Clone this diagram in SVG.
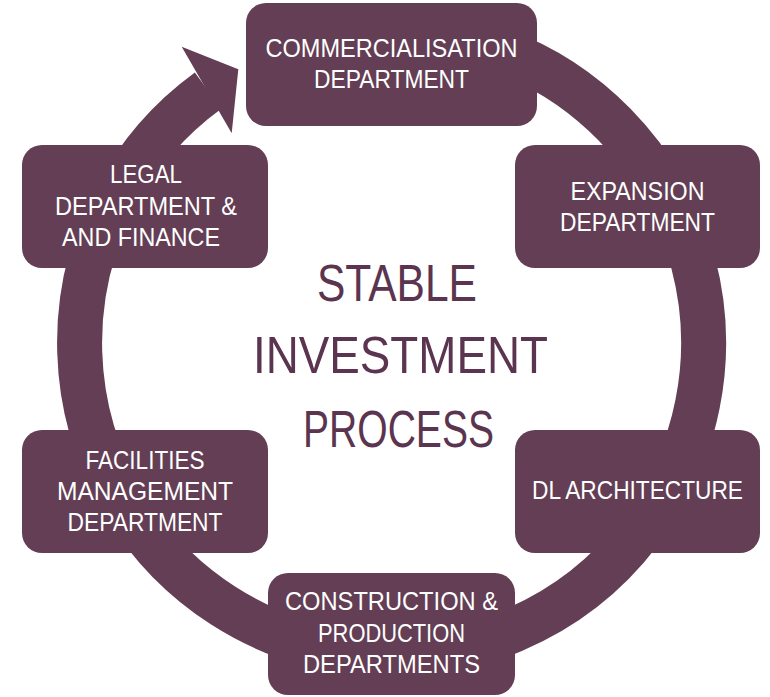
<svg xmlns="http://www.w3.org/2000/svg" width="770" height="697" viewBox="0 0 770 697">
  <style>
    .box { fill: #633e54; }
    .ring { fill: none; stroke: #633e54; stroke-width: 45; stroke-linecap: butt; }
    .head { fill: #633e54; }
    .lbl { font-family: "Liberation Sans", Arial, sans-serif; font-size: 25px; fill: #ffffff; text-anchor: middle; }
    .title { font-family: "Liberation Sans", Arial, sans-serif; font-size: 51px; fill: #5b344f; text-anchor: middle; }
  </style>

  <!-- circular flow arrow -->
  <g id="connectors">
    <path class="ring" d="M 337.3 35.7 A 312 312 0 1 1 208.1 90.6"/>
    <polygon class="head" points="181.7,46.7 238.3,69.3 231.7,133.3"/>
  </g>

  <g id="commercialisation">
    <rect class="box" x="246" y="3" width="291" height="123" rx="20"/>
    <text class="lbl" x="391.5" y="57" textLength="252" lengthAdjust="spacingAndGlyphs">COMMERCIALISATION</text>
    <text class="lbl" x="391.5" y="88" textLength="155" lengthAdjust="spacingAndGlyphs">DEPARTMENT</text>
  </g>

  <g id="expansion">
    <rect class="box" x="515" y="145" width="245" height="123" rx="20"/>
    <text class="lbl" x="637.5" y="200" textLength="134" lengthAdjust="spacingAndGlyphs">EXPANSION</text>
    <text class="lbl" x="637.5" y="231" textLength="155" lengthAdjust="spacingAndGlyphs">DEPARTMENT</text>
  </g>

  <g id="dl-architecture">
    <rect class="box" x="515" y="430" width="245" height="123" rx="20"/>
    <text class="lbl" x="637.5" y="499" textLength="211" lengthAdjust="spacingAndGlyphs">DL ARCHITECTURE</text>
  </g>

  <g id="construction">
    <rect class="box" x="268" y="573" width="247" height="122" rx="20"/>
    <text class="lbl" x="391.5" y="610" textLength="213" lengthAdjust="spacingAndGlyphs">CONSTRUCTION &amp;</text>
    <text class="lbl" x="391.5" y="642" textLength="147" lengthAdjust="spacingAndGlyphs">PRODUCTION</text>
    <text class="lbl" x="391.5" y="673" textLength="177" lengthAdjust="spacingAndGlyphs">DEPARTMENTS</text>
  </g>

  <g id="facilities">
    <rect class="box" x="22" y="430" width="246" height="123" rx="20"/>
    <text class="lbl" x="145" y="469" textLength="119" lengthAdjust="spacingAndGlyphs">FACILITIES</text>
    <text class="lbl" x="145" y="500" textLength="176" lengthAdjust="spacingAndGlyphs">MANAGEMENT</text>
    <text class="lbl" x="145" y="531" textLength="155" lengthAdjust="spacingAndGlyphs">DEPARTMENT</text>
  </g>

  <g id="legal">
    <rect class="box" x="22" y="145" width="246" height="123" rx="20"/>
    <text class="lbl" x="146" y="183" textLength="72" lengthAdjust="spacingAndGlyphs">LEGAL</text>
    <text class="lbl" x="146" y="215" textLength="182" lengthAdjust="spacingAndGlyphs">DEPARTMENT &amp;</text>
    <text class="lbl" x="141" y="246" textLength="158" lengthAdjust="spacingAndGlyphs">AND FINANCE</text>
  </g>

  <g id="title">
    <text class="title" x="397" y="301" textLength="160" lengthAdjust="spacingAndGlyphs">STABLE</text>
    <text class="title" x="400.5" y="373" textLength="295" lengthAdjust="spacingAndGlyphs">INVESTMENT</text>
    <text class="title" x="398.5" y="447" textLength="191" lengthAdjust="spacingAndGlyphs">PROCESS</text>
  </g>
</svg>
